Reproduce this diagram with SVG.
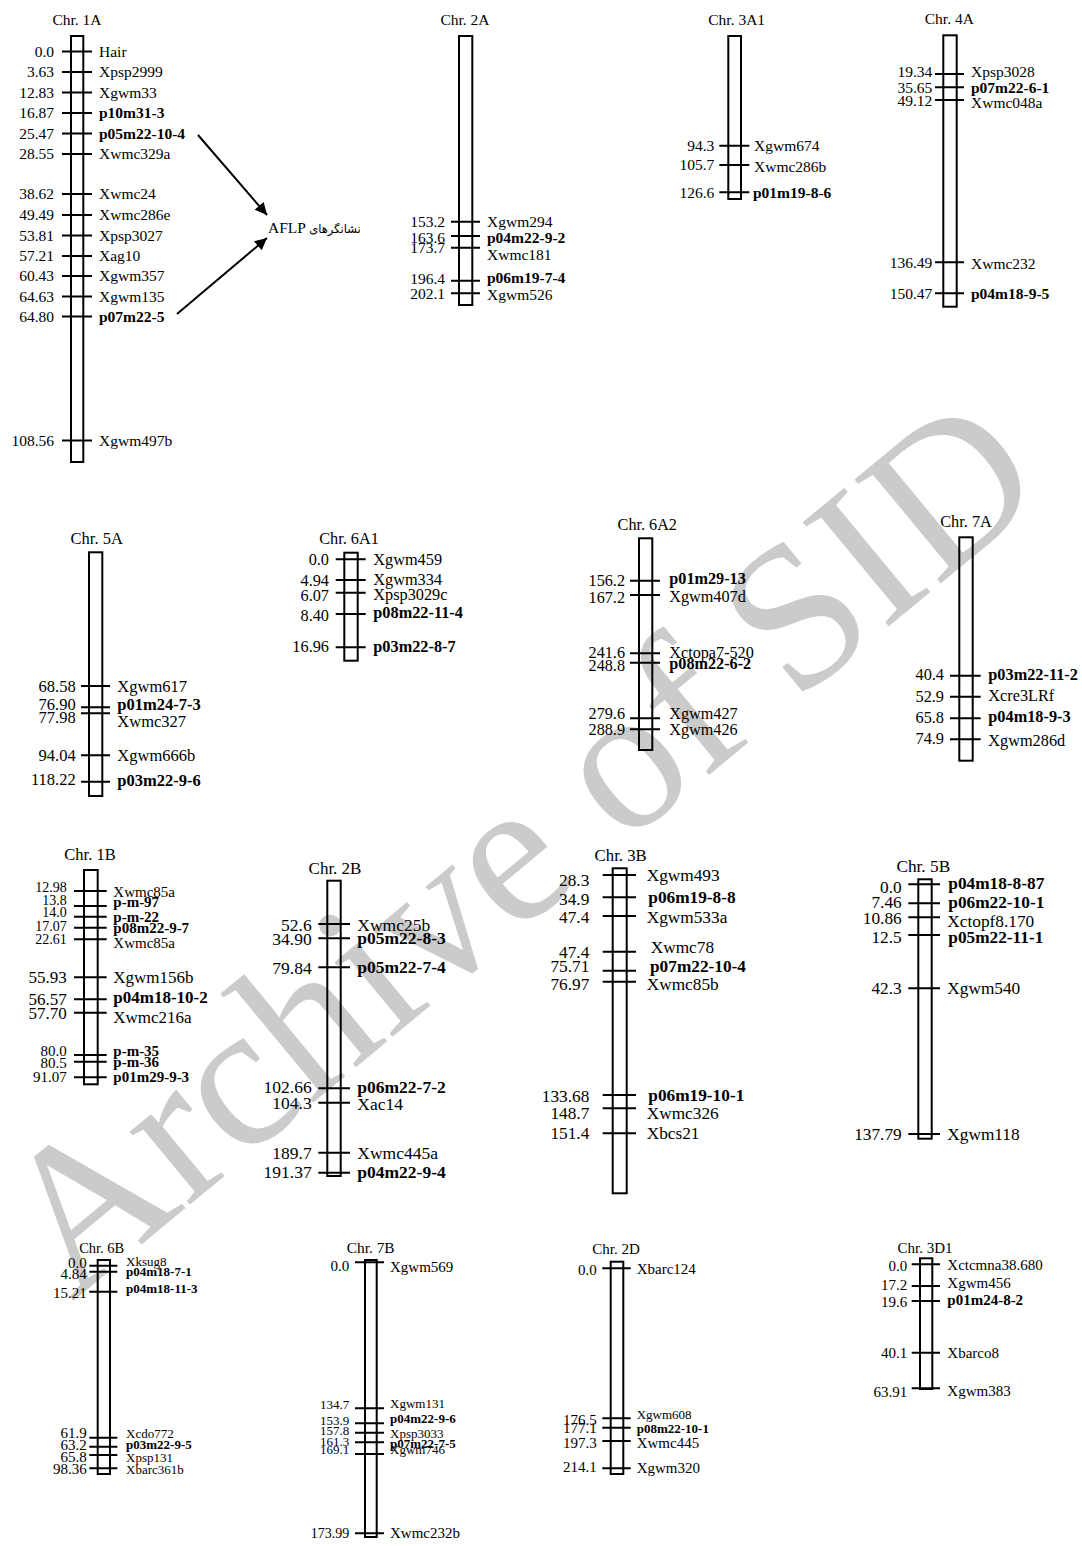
<svg xmlns="http://www.w3.org/2000/svg" width="1082" height="1546" viewBox="0 0 1082 1546">
<style>
text{font-family:"Liberation Serif","Times New Roman","DejaVu Sans",serif;fill:#000}
.t{text-anchor:middle}
.n{text-anchor:end}
.b{font-weight:bold}
.box{fill:none;stroke:#000;stroke-width:2}
.k{stroke:#000;stroke-width:2}
.wm{font-size:206px;fill:#cbcbcb}
.arr{stroke:#000;stroke-width:2;fill:none}
</style>
<defs>
<marker id="ah" viewBox="0 0 10 10" refX="10" refY="5" markerWidth="15" markerHeight="12" markerUnits="userSpaceOnUse" orient="auto">
<path d="M0,0 L10,5 L0,10 z" fill="#000"/>
</marker>
</defs>
<rect width="1082" height="1546" fill="#fff"/>
<text class="wm" transform="translate(72,1302) rotate(-39.6)">Archive of SID</text>

<g id="chr1A" font-size="15.5">
<text class="t" x="77" y="25">Chr. 1A</text>
<rect class="box" x="71" y="36" width="12.3" height="426"/>
<path class="k" d="M62 51.5H92M62 72H92M62 92.5H92M62 113H92M62 133.5H92M62 154H92M62 194H92M62 215H92M62 235.5H92M62 256H92M62 276H92M62 296.5H92M62 316.5H92M62 440.5H92"/>
<g class="n">
<text x="54" y="56.8">0.0</text><text x="54" y="77.3">3.63</text><text x="54" y="97.8">12.83</text><text x="54" y="118.3">16.87</text><text x="54" y="138.8">25.47</text><text x="54" y="159.3">28.55</text><text x="54" y="199.3">38.62</text><text x="54" y="220.3">49.49</text><text x="54" y="240.8">53.81</text><text x="54" y="261.3">57.21</text><text x="54" y="281.3">60.43</text><text x="54" y="301.8">64.63</text><text x="54" y="321.8">64.80</text><text x="54" y="445.8">108.56</text>
</g>
<text x="99" y="56.8">Hair</text><text x="99" y="77.3">Xpsp2999</text><text x="99" y="97.8">Xgwm33</text><text class="b" x="99" y="118.3">p10m31-3</text><text class="b" x="99" y="138.8">p05m22-10-4</text><text x="99" y="159.3">Xwmc329a</text><text x="99" y="199.3">Xwmc24</text><text x="99" y="220.3">Xwmc286e</text><text x="99" y="240.8">Xpsp3027</text><text x="99" y="261.3">Xag10</text><text x="99" y="281.3">Xgwm357</text><text x="99" y="301.8">Xgwm135</text><text class="b" x="99" y="321.8">p07m22-5</text><text x="99" y="445.8">Xgwm497b</text>
</g>

<g id="aflp-note">
<text x="268" y="233" font-size="15.5">AFLP <tspan font-family="'DejaVu Sans',sans-serif" font-size="11.5">نشانگرهای</tspan></text>
</g>

<g id="chr2A" font-size="15.5">
<text class="t" x="465" y="25">Chr. 2A</text>
<rect class="box" x="459" y="36" width="13.3" height="269"/>
<path class="k" d="M451 221.7H480M451 236H480M451 247.7H480M451 280.7H480M451 293.3H480"/>
<g class="n"><text x="445" y="227">153.2</text><text x="445" y="242.6">163.6</text><text x="445" y="252.6">173.7</text><text x="445" y="283.6">196.4</text><text x="445" y="299.3">202.1</text></g>
<text x="487" y="227">Xgwm294</text><text class="b" x="487" y="242.6">p04m22-9-2</text><text x="487" y="260.3">Xwmc181</text><text class="b" x="487" y="282.6">p06m19-7-4</text><text x="487" y="300.3">Xgwm526</text>
</g>

<g id="chr3A1" font-size="15.5">
<text class="t" x="736.7" y="25">Chr. 3A1</text>
<rect class="box" x="728.3" y="36" width="12.7" height="163"/>
<path class="k" d="M719.3 145.7H749.3M719.3 165H749.3M719.3 192.3H749.3"/>
<g class="n"><text x="714.3" y="151">94.3</text><text x="714.3" y="170.3">105.7</text><text x="714.3" y="197.6">126.6</text></g>
<text x="754" y="151">Xgwm674</text><text x="754" y="172">Xwmc286b</text><text class="b" x="753" y="197.6">p01m19-8-6</text>
</g>

<g id="chr4A" font-size="15.5">
<text class="t" x="949.3" y="24">Chr. 4A</text>
<rect class="box" x="943.3" y="35.3" width="13.4" height="271.4"/>
<path class="k" d="M935 74H964M935 87.3H964M935 100H964M935 262.3H964M935 293.3H964"/>
<g class="n"><text x="932.3" y="77">19.34</text><text x="932.3" y="92.6">35.65</text><text x="932.3" y="106">49.12</text><text x="932.3" y="267.6">136.49</text><text x="932.3" y="298.6">150.47</text></g>
<text x="971" y="77">Xpsp3028</text><text class="b" x="971" y="92.6">p07m22-6-1</text><text x="971" y="108">Xwmc048a</text><text x="971" y="268.6">Xwmc232</text><text class="b" x="971" y="298.6">p04m18-9-5</text>
</g>

<g id="chr5A" font-size="16.5">
<text class="t" x="96.7" y="544">Chr. 5A</text>
<rect class="box" x="89" y="552.3" width="13.3" height="243.7"/>
<path class="k" d="M81 686H110M81 707.3H110M81 713.3H110M81 755.3H110M81 781.7H110"/>
<g class="n"><text x="75.7" y="692.3">68.58</text><text x="75.7" y="709.9">76.90</text><text x="75.7" y="722.9">77.98</text><text x="75.7" y="760.9">94.04</text><text x="75.7" y="784.9">118.22</text></g>
<text x="117.3" y="691.6">Xgwm617</text><text class="b" x="117.3" y="709.9">p01m24-7-3</text><text x="117.3" y="726.6">Xwmc327</text><text x="117.3" y="760.9">Xgwm666b</text><text class="b" x="117.3" y="785.6">p03m22-9-6</text>
</g>

<g id="chr6A1" font-size="16.3">
<text class="t" x="349" y="544">Chr. 6A1</text>
<rect class="box" x="344.3" y="552.7" width="13.4" height="108"/>
<path class="k" d="M335.7 559.3H365.7M335.7 580H365.7M335.7 592.7H365.7M335.7 614H365.7M335.7 647.3H365.7"/>
<g class="n"><text x="329" y="564.8">0.0</text><text x="329" y="585.5">4.94</text><text x="329" y="600.5">6.07</text><text x="329" y="620.5">8.40</text><text x="329" y="652.2">16.96</text></g>
<text x="373.3" y="564.8">Xgwm459</text><text x="373.3" y="584.8">Xgwm334</text><text x="373.3" y="599.5">Xpsp3029c</text><text class="b" x="373.3" y="618.2">p08m22-11-4</text><text class="b" x="373.3" y="652.2">p03m22-8-7</text>
</g>

<g id="chr6A2" font-size="16.2">
<text class="t" x="647.3" y="530">Chr. 6A2</text>
<rect class="box" x="639" y="538.3" width="13.3" height="211.7"/>
<path class="k" d="M630 580.7H660M630 595H660M630 653.3H660M630 662.7H660M630 718.3H660M630 729.3H660"/>
<g class="n"><text x="625" y="586.2">156.2</text><text x="625" y="602.8">167.2</text><text x="625" y="658.2">241.6</text><text x="625" y="670.5">248.8</text><text x="625" y="718.8">279.6</text><text x="625" y="734.8">288.9</text></g>
<text class="b" x="669.3" y="583.8">p01m29-13</text><text x="669.3" y="601.5">Xgwm407d</text><text x="669.3" y="658.2">Xctopa7-520</text><text class="b" x="669.3" y="668.8">p08m22-6-2</text><text x="669.3" y="718.8">Xgwm427</text><text x="669.3" y="734.8">Xgwm426</text>
</g>

<g id="chr7A" font-size="16.3">
<text class="t" x="966" y="527.3">Chr. 7A</text>
<rect class="box" x="959.3" y="537.3" width="13.4" height="223.4"/>
<path class="k" d="M950 675.7H980.7M950 696.7H980.7M950 718.3H980.7M950 739.3H980.7"/>
<g class="n"><text x="944" y="679.5">40.4</text><text x="944" y="702.2">52.9</text><text x="944" y="722.8">65.8</text><text x="944" y="743.8">74.9</text></g>
<text class="b" x="988.3" y="679.5">p03m22-11-2</text><text x="988.3" y="700.5">Xcre3LRf</text><text class="b" x="988.3" y="721.5">p04m18-9-3</text><text x="988.3" y="746.2">Xgwm286d</text>
</g>

<g id="chr1B" font-size="15">
<text class="t" x="90" y="860" font-size="16.5">Chr. 1B</text>
<rect class="box" x="84" y="870" width="13.7" height="214.3"/>
<path class="k" d="M74 891H106.7M74 906H106.7M74 916.7H106.7M74 927.7H106.7M74 939.3H106.7M74 977.3H106.7M74 999.3H106.7M74 1012.7H106.7M74 1055H106.7M74 1061.7H106.7M74 1077.3H106.7"/>
<g class="n">
<text x="66.7" y="892.1" font-size="14">12.98</text><text x="66.7" y="904.8" font-size="14">13.8</text><text x="66.7" y="916.5" font-size="14">14.0</text><text x="66.7" y="930.8" font-size="14">17.07</text><text x="66.7" y="944.1" font-size="14">22.61</text>
<text x="66.7" y="983.1" font-size="17">55.93</text><text x="66.7" y="1005.1" font-size="17">56.57</text><text x="66.7" y="1019.1" font-size="17">57.70</text>
<text x="66.7" y="1055.8">80.0</text><text x="66.7" y="1067.8">80.5</text><text x="66.7" y="1082.4">91.07</text>
</g>
<text x="113.3" y="896.8">Xwmc85a</text><text class="b" x="113.3" y="906.8">p-m-97</text><text class="b" x="113.3" y="922.4">p-m-22</text><text class="b" x="113.3" y="933.4">p08m22-9-7</text><text x="113.3" y="947.8">Xwmc85a</text>
<text x="113.3" y="983.1" font-size="17">Xgwm156b</text><text class="b" x="113.3" y="1003.1" font-size="17">p04m18-10-2</text><text x="113.3" y="1022.5" font-size="17">Xwmc216a</text>
<text class="b" x="113.3" y="1055.8">p-m-35</text><text class="b" x="113.3" y="1066.8">p-m-36</text><text class="b" x="113.3" y="1081.8">p01m29-9-3</text>
</g>

<g id="chr2B" font-size="17.5">
<text class="t" x="335" y="874" font-size="17">Chr. 2B</text>
<rect class="box" x="327.3" y="880.7" width="13.4" height="295.3"/>
<path class="k" d="M318.3 924H350M318.3 938.3H350M318.3 967.3H350M318.3 1088.3H350M318.3 1102.7H350M318.3 1152.7H350M318.3 1172.7H350"/>
<g class="n"><text x="311.7" y="931">52.6</text><text x="311.7" y="945.3">34.90</text><text x="311.7" y="974.3">79.84</text><text x="311.7" y="1093.3">102.66</text><text x="311.7" y="1108.7">104.3</text><text x="311.7" y="1159.3">189.7</text><text x="311.7" y="1177.7">191.37</text></g>
<text x="357.3" y="931">Xwmc25b</text><text class="b" x="357.3" y="944.3">p05m22-8-3</text><text class="b" x="357.3" y="973.3">p05m22-7-4</text><text class="b" x="357.3" y="1093.3">p06m22-7-2</text><text x="357.3" y="1110">Xac14</text><text x="357.3" y="1159.3">Xwmc445a</text><text class="b" x="357.3" y="1177.7">p04m22-9-4</text>
</g>

<g id="chr3B" font-size="17.3">
<text class="t" x="620.7" y="860.7" font-size="16.8">Chr. 3B</text>
<rect class="box" x="612.7" y="868.3" width="14" height="325"/>
<path class="k" d="M602.7 875H636M602.7 897.3H636M602.7 916H636M602.7 951.7H636M602.7 970.7H636M602.7 981.7H636M602.7 1095H636M602.7 1108.3H636M602.7 1133.3H636"/>
<g class="n"><text x="589.3" y="885.9">28.3</text><text x="589.3" y="905.2">34.9</text><text x="589.3" y="923.2">47.4</text><text x="589.3" y="957.6">47.4</text><text x="589.3" y="971.9">75.71</text><text x="589.3" y="989.9">76.97</text><text x="589.3" y="1101.9">133.68</text><text x="589.3" y="1118.6">148.7</text><text x="589.3" y="1139.2">151.4</text></g>
<text x="646.7" y="880.9">Xgwm493</text><text class="b" x="648.3" y="903.2">p06m19-8-8</text><text x="646.7" y="922.6">Xgwm533a</text><text x="650.7" y="953.2">Xwmc78</text><text class="b" x="650" y="971.9">p07m22-10-4</text><text x="646.7" y="989.9">Xwmc85b</text><text class="b" x="648.3" y="1100.9">p06m19-10-1</text><text x="646.7" y="1118.6">Xwmc326</text><text x="646.7" y="1139.2">Xbcs21</text>
</g>

<g id="chr5B" font-size="17.3">
<text class="t" x="923.3" y="871.7">Chr. 5B</text>
<rect class="box" x="918.3" y="879.3" width="13.4" height="259.4"/>
<path class="k" d="M908.3 884.3H940M908.3 903.3H940M908.3 917.3H940M908.3 935H940M908.3 988.3H940M908.3 1134H940"/>
<g class="n"><text x="901.7" y="892.6">0.0</text><text x="901.7" y="907.6">7.46</text><text x="901.7" y="924.2">10.86</text><text x="901.7" y="943.2">12.5</text><text x="901.7" y="994.2">42.3</text><text x="901.7" y="1139.9">137.79</text></g>
<text class="b" x="948.3" y="889.2">p04m18-8-87</text><text class="b" x="948.3" y="908.2">p06m22-10-1</text><text x="947.3" y="926.6">Xctopf8.170</text><text class="b" x="948.3" y="943.2">p05m22-11-1</text><text x="947.3" y="994.2">Xgwm540</text><text x="947.3" y="1139.9">Xgwm118</text>
</g>

<g id="chr6B" font-size="13">
<text class="t" x="101.7" y="1252.7" font-size="14.5">Chr. 6B</text>
<rect class="box" x="97.7" y="1260" width="12.3" height="214"/>
<path class="k" d="M89.3 1265.7H117.3M89.3 1271.7H117.3M89.3 1291.7H117.3M89.3 1437.7H117.3M89.3 1446.7H117.3M89.3 1455H117.3M89.3 1468.3H117.3"/>
<g class="n" font-size="15"><text x="86.7" y="1268.4">0.0</text><text x="86.7" y="1279.4">4.84</text><text x="86.7" y="1297.8">15.21</text><text x="86.7" y="1438.4">61.9</text><text x="86.7" y="1450.1">63.2</text><text x="86.7" y="1462.4">65.8</text><text x="86.7" y="1474.4">98.36</text></g>
<text x="126" y="1266.1">Xksug8</text><text class="b" x="126" y="1276.1">p04m18-7-1</text><text class="b" x="126" y="1293.4">p04m18-11-3</text><text x="126" y="1438.4">Xcdo772</text><text class="b" x="126" y="1449.4">p03m22-9-5</text><text x="126" y="1462.1">Xpsp131</text><text x="126" y="1473.7">Xbarc361b</text>
</g>

<g id="chr7B" font-size="13">
<text class="t" x="370.7" y="1252.7" font-size="15.4">Chr. 7B</text>
<rect class="box" x="365" y="1260" width="11.7" height="277"/>
<path class="k" d="M355 1262.3H384M355 1408.3H384M355 1423.3H384M355 1432.7H384M355 1442.3H384M355 1454H384M355 1533.3H384"/>
<g class="n"><text x="349.3" y="1270.8" font-size="15">0.0</text><text x="349.3" y="1408.7">134.7</text><text x="349.3" y="1425.4">153.9</text><text x="349.3" y="1435.1">157.8</text><text x="349.3" y="1445.7">161.3</text><text x="349.3" y="1454.4">169.1</text><text x="349.3" y="1538.4" font-size="14">173.99</text></g>
<text x="390" y="1271.8" font-size="15">Xgwm569</text><text x="390" y="1407.7">Xgwm131</text><text class="b" x="390" y="1422.7">p04m22-9-6</text><text x="390" y="1437.7">Xpsp3033</text><text class="b" x="390" y="1447.7">p07m22-7-5</text><text x="390" y="1454.4">Xgwm746</text><text x="390" y="1538.4" font-size="15">Xwmc232b</text>
</g>

<g id="chr2D" font-size="15">
<text class="t" x="616" y="1254">Chr. 2D</text>
<rect class="box" x="610.7" y="1261.7" width="12.6" height="212.3"/>
<path class="k" d="M602.3 1268.3H630.7M602.3 1418.3H630.7M602.3 1427.7H630.7M602.3 1441H630.7M602.3 1468.3H630.7"/>
<g class="n"><text x="596.7" y="1275.1">0.0</text><text x="596.7" y="1425.1">176.5</text><text x="596.7" y="1433.4">177.1</text><text x="596.7" y="1447.8">197.3</text><text x="596.7" y="1472.4">214.1</text></g>
<text x="636.7" y="1274.4">Xbarc124</text><text x="636.7" y="1419.4" font-size="13">Xgwm608</text><text class="b" x="636.7" y="1432.7" font-size="13">p08m22-10-1</text><text x="636.7" y="1448.4">Xwmc445</text><text x="636.7" y="1473.4">Xgwm320</text>
</g>

<g id="chr3D1" font-size="15">
<text class="t" x="925" y="1252.7">Chr. 3D1</text>
<rect class="box" x="920" y="1258.3" width="12.3" height="130.7"/>
<path class="k" d="M911.7 1264.3H940M911.7 1286H940M911.7 1301H940M911.7 1352.7H940M911.7 1388.3H940"/>
<g class="n"><text x="907.3" y="1271.1">0.0</text><text x="907.3" y="1290.1">17.2</text><text x="907.3" y="1306.8">19.6</text><text x="907.3" y="1357.8">40.1</text><text x="907.3" y="1396.8">63.91</text></g>
<text x="947.3" y="1270.1">Xctcmna38.680</text><text x="947.3" y="1288.4">Xgwm456</text><text class="b" x="947.3" y="1305.1">p01m24-8-2</text><text x="947.3" y="1358.4">Xbarco8</text><text x="947.3" y="1395.8">Xgwm383</text>
</g>

<g id="connectors">
<line class="arr" x1="198" y1="135" x2="267" y2="215" marker-end="url(#ah)"/>
<line class="arr" x1="177" y1="314" x2="267" y2="238" marker-end="url(#ah)"/>
</g>
</svg>
